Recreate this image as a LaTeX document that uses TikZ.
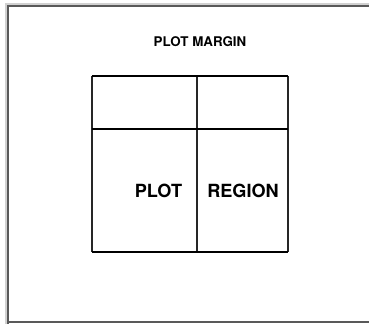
\documentclass[tikz,border=0pt]{standalone}
\usepackage{fontspec}
\setmainfont{TeX Gyre Heros}
\usetikzlibrary{positioning}

\begin{document}
\begin{tikzpicture}[
  x=0.75pt, y=-0.75pt,
  frame/.style={draw=black!65, line width=0.9pt},
  shade/.style={draw=black!18, line width=2pt},
  hrule/.style={draw=black, line width=1.4pt},
  vrule/.style={draw=black!85, line width=0.8pt},
  label/.style={font=\bfseries, inner sep=0pt}
]
\clip (0,0) rectangle (369,324);
\fill[white] (0,0) rectangle (369,324);
% page with its shadow
\draw[shade] (6.5,400) |- (400,4.5);
\draw[frame] (8,400) |- (400,6);
\draw[frame] (8,322) -- (400,322);
% corners of the plot region
\coordinate (nw) at (92,76);
\coordinate (ne) at (288,76);
\coordinate (sw) at (92,252);
\coordinate (se) at (288,252);
\coordinate (mw) at (92,129);
\coordinate (me) at (288,129);
\coordinate (top) at (197,76);
\coordinate (bot) at (197,252);
\draw[vrule] (nw) -- (sw);
\draw[vrule] (ne) -- (se);
\draw[vrule] (top) -- (bot);
\draw[hrule] (nw) -- (ne);
\draw[hrule] (mw) -- (me);
\draw[hrule] (sw) -- (se);
% texts
\node[label, font=\bfseries\fontsize{10}{12}\selectfont, anchor=base] (margin) at (200,46.5) {PLOT MARGIN};
\node[label, font=\bfseries\fontsize{13.6}{16}\selectfont, anchor=base east] (plot) at (182.5,198) {PLOT};
\node[label, font=\bfseries\fontsize{13.6}{16}\selectfont, anchor=base west] (region) at (207,198) {REGION};
\end{tikzpicture}
\end{document}
